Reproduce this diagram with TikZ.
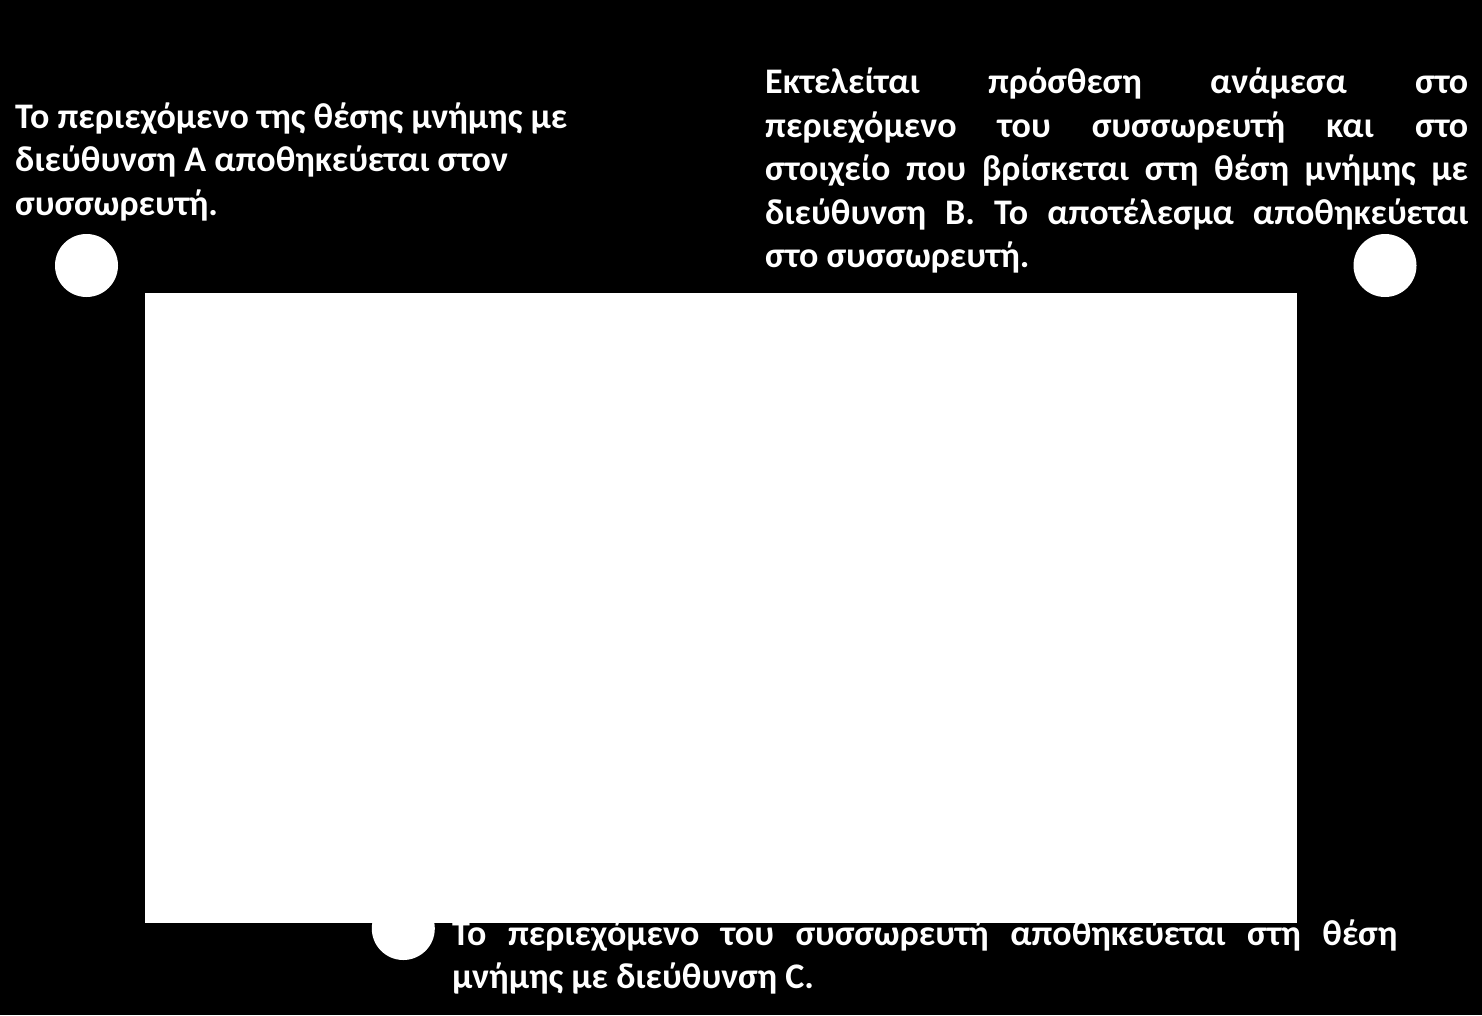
\documentclass[tikz,border=0pt]{standalone}
\usepackage{fontspec}
\setmainfont{Carlito}
\usetikzlibrary{positioning}

\newcommand{\jline}[2]{\makebox[#1][s]{#2}}

\begin{document}
\begin{tikzpicture}[x=1bp,y=-1bp,
  txt/.style={anchor=base west, inner sep=0pt, text=white, font=\fontsize{36bp}{43.5bp}\selectfont\bfseries},
  dot/.style={circle, fill=white, minimum size=63bp, inner sep=0pt}]
\fill[black] (0,0) rectangle (1482,1015);
\useasboundingbox (0,0) rectangle (1482,1015);

% circles
\node[dot] (d1) at (86.5,265.5) {};
\node[dot] (d2) at (1385,265.5) {};
\node[dot] (d3) at (403.3,928.5) {};

% step A
\node[txt] (a1) at (15,128.3) {Το περιεχόμενο της θέσης μνήμης με};
\node[txt] (a2) at (15,171.8) {διεύθυνση A αποθηκεύεται στον};
\node[txt] (a3) at (15,215.3) {συσσωρευτή.};

% step B
\node[txt] (b1) at (765,93.5) {\jline{703bp}{Εκτελείται πρόσθεση ανάμεσα στο}};
\node[txt] (b2) at (765,137) {\jline{703bp}{περιεχόμενο του συσσωρευτή και στο}};
\node[txt] (b3) at (765,180.5) {\jline{703bp}{στοιχείο που βρίσκεται στη θέση μνήμης με}};
\node[txt] (b4) at (765,224) {\jline{703bp}{διεύθυνση B. Το αποτέλεσμα αποθηκεύεται}};
\node[txt] (b5) at (765,267.5) {στο συσσωρευτή.};

% step C
\node[txt] (c1) at (452,945) {\jline{945bp}{Το περιεχόμενο του συσσωρευτή αποθηκεύεται στη θέση}};
\node[txt] (c2) at (452,988.5) {μνήμης με διεύθυνση C.};

% picture area
\fill[white] (145,292.7) rectangle (1296.7,922.7);
\end{tikzpicture}
\end{document}
